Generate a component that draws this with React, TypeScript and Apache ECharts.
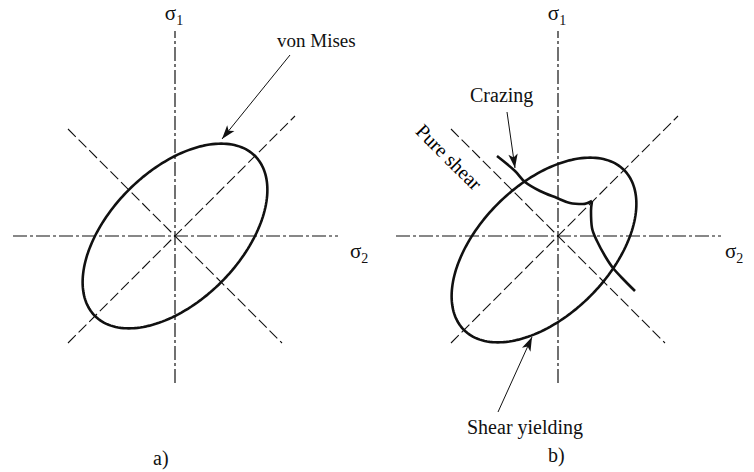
import React, { useEffect, useRef } from "react";
import * as echarts from "echarts";

// Principal-stress plane: sigma2 horizontal, sigma1 vertical (same scale on both).
const PLANE_SIGMA2 = [-175, 185];
const PLANE_SIGMA1 = [-185, 230];

// Drawn extent of the two stress axes
const SIGMA2_AXIS = [
  [-162, 0],
  [163, 0],
];
const SIGMA1_AXIS = [
  [0, -147],
  [0, 205],
];

// Yield stress of the von Mises locus, and the hydrostatic shift of the
// pressure-sensitive locus drawn in panel b).
const YIELD_STRESS = 80;
const SHIFT_A = 0;
const SHIFT_B = -14;

// Reference diagonals [sigma2, sigma1]
const BIAXIAL_LINE = [
  [-107, -107],
  [120, 120],
];
const PURE_SHEAR_LINE = [
  [-107, 107],
  [107, -107],
];

// Crazing envelope, two branches meeting on the equibiaxial diagonal
const CRAZE_UPPER = [
  [-61, 80],
  [-43, 65],
  [-33, 54],
  [-18, 45],
  [-1, 38],
  [12, 33],
  [25, 32],
  [34, 35],
];
const CRAZE_LOWER = [
  [34, 35],
  [33, 25],
  [34, 8],
  [39, -5],
  [47, -20],
  [55, -32],
  [67, -45],
  [77, -55],
];

// Annotation arrows: [tail, tip] in [sigma2, sigma1]
const ARROW_VON_MISES = [
  [115, 181],
  [47, 97],
];
const ARROW_CRAZING = [
  [-51, 124],
  [-43, 68],
];
const ARROW_SHEAR = [
  [-60, -176],
  [-26, -101],
];

const INK = "#111111";
const SERIF = "'Liberation Serif', 'DejaVu Serif', serif";

// von Mises locus: s1^2 - s1*s2 + s2^2 = Y^2, centred on (shift, shift)
function vonMisesLocus(yieldStress: number, shift: number): number[][] {
  const pts: number[][] = [];
  for (let deg = 0; deg <= 360; deg += 2) {
    const t = (deg * Math.PI) / 180;
    const u = Math.SQRT2 * yieldStress * Math.cos(t);
    const v = Math.sqrt(2 / 3) * yieldStress * Math.sin(t);
    const s1 = shift + (u + v) / Math.SQRT2;
    const s2 = shift + (u - v) / Math.SQRT2;
    pts.push([s2, s1]);
  }
  return pts;
}

const axisDash = [14, 3, 3, 3];
const diagDash = [11, 4];

function hiddenAxis(gridIndex: number, range: number[]) {
  return {
    type: "value" as const,
    gridIndex,
    min: range[0],
    max: range[1],
    show: false,
  };
}

function curve(data: number[][], gi: number, extra: any = {}) {
  return {
    type: "line" as const,
    xAxisIndex: gi,
    yAxisIndex: gi,
    data,
    showSymbol: false,
    symbol: "none",
    silent: true,
    lineStyle: { color: INK, width: 2.6 },
    ...extra,
  };
}

function diagonal(data: number[][], gi: number) {
  return curve(data, gi, {
    lineStyle: { color: INK, width: 1.1, type: diagDash },
  });
}

function stressAxis(data: number[][], gi: number) {
  return curve(data, gi, {
    lineStyle: { color: INK, width: 1.2, type: axisDash },
  });
}

function arrowLine(pair: number[][]) {
  return [
    { coord: pair[0], symbol: "none" },
    { coord: pair[1], symbol: "arrow", symbolSize: [7, 14] },
  ];
}

function markArrows(pairs: number[][][]) {
  return {
    silent: true,
    symbol: ["none", "arrow"],
    label: { show: false },
    lineStyle: { color: INK, width: 1, type: "solid" as const },
    emphasis: { disabled: true },
    data: pairs.map(arrowLine),
  };
}

function label(text: string, x: number, y: number, size = 20, extra: any = {}) {
  return {
    type: "text" as const,
    x,
    y,
    silent: true,
    ...extra,
    style: {
      text,
      fill: INK,
      font: `${size}px ${SERIF}`,
      verticalAlign: "middle",
      ...(extra.style || {}),
    },
  };
}

const sigmaRich = {
  s: { fontSize: 21, fontFamily: SERIF, fill: INK, padding: [0, 0, 4, 0] },
  b: { fontSize: 14, fontFamily: SERIF, fill: INK, verticalAlign: "bottom" },
};

function sigmaLabel(sub: string, x: number, y: number, align: string, vAlign: string) {
  return {
    type: "text" as const,
    x,
    y,
    silent: true,
    style: {
      text: `{s|σ}{b|${sub}}`,
      rich: sigmaRich,
      fill: INK,
      align,
      verticalAlign: vAlign,
    },
  };
}

export default function App() {
  const ref = useRef<HTMLDivElement>(null);

  useEffect(() => {
    if (!ref.current) return;
    const chart = echarts.init(ref.current, undefined, { renderer: "svg" });

    chart.setOption({
      animation: false,
      backgroundColor: "#ffffff",
      grid: [
        { left: 0, top: 6, width: 360, height: 415 },
        { left: 383, top: 6, width: 360, height: 415 },
      ],
      xAxis: [hiddenAxis(0, PLANE_SIGMA2), hiddenAxis(1, PLANE_SIGMA2)],
      yAxis: [hiddenAxis(0, PLANE_SIGMA1), hiddenAxis(1, PLANE_SIGMA1)],
      series: [
        stressAxis(SIGMA2_AXIS, 0),
        stressAxis(SIGMA1_AXIS, 0),
        diagonal(BIAXIAL_LINE, 0),
        diagonal(PURE_SHEAR_LINE, 0),
        curve(vonMisesLocus(YIELD_STRESS, SHIFT_A), 0, {
          markLine: markArrows([ARROW_VON_MISES]),
        }),
        stressAxis(SIGMA2_AXIS, 1),
        stressAxis(SIGMA1_AXIS, 1),
        diagonal(BIAXIAL_LINE, 1),
        diagonal(PURE_SHEAR_LINE, 1),
        curve(vonMisesLocus(YIELD_STRESS, SHIFT_B), 1, {
          markLine: markArrows([ARROW_CRAZING, ARROW_SHEAR]),
        }),
        curve(CRAZE_UPPER, 1, { smooth: 0.35 }),
        curve(CRAZE_LOWER, 1, { smooth: 0.35 }),
      ],
      graphic: [
        sigmaLabel("1", 174, 27, "center", "bottom"),
        sigmaLabel("2", 350, 240, "left", "top"),
        sigmaLabel("1", 557, 27, "center", "bottom"),
        sigmaLabel("2", 725, 240, "left", "top"),
        label("von Mises", 277, 40, 19),
        label("Crazing", 470, 95),
        label("Shear yielding", 467, 427),
        label("a)", 153, 458),
        label("b)", 548, 455),
        label("Pure shear", 449, 157, 20, {
          rotation: -Math.PI / 4,
          style: { align: "center", fill: "#000000" },
        }),
      ],
    });

    return () => chart.dispose();
  }, []);

  return (
    <div
      ref={ref}
      style={{ position: "fixed", left: 0, top: 0, width: 754, height: 472 }}
    />
  );
}
